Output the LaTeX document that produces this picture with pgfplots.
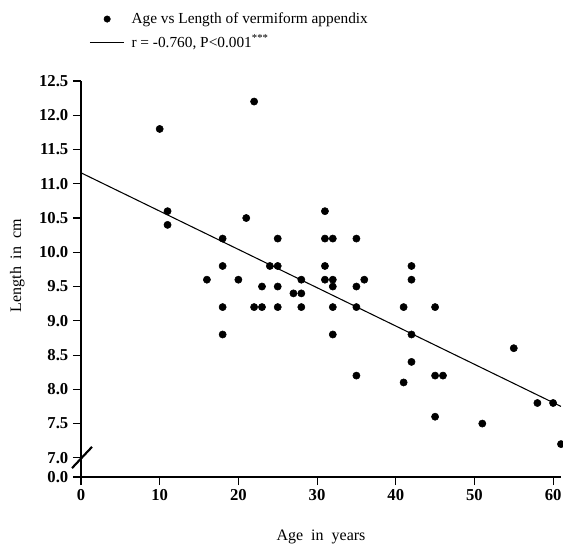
\documentclass[border=0pt]{standalone}
\usepackage{fontspec}
\setmainfont{Liberation Serif}
\usepackage{pgfplots}
\pgfplotsset{compat=1.18}

\begin{document}
\begin{tikzpicture}
\begin{axis}[
    scale only axis,
    width=360pt, height=297pt,
    xmin=0, xmax=61, ymin=6.72, ymax=12.5,
    axis lines=left,
    axis line style={-, line width=0.9pt},
    clip=false,
    xtick={0,10,20,30,40,50,60},
    xticklabels={0,10,20,30,40,50,60},
    ytick={6.72,7,7.5,8,8.5,9,9.5,10,10.5,11,11.5,12,12.5},
    yticklabels={0.0,7.0,7.5,8.0,8.5,9.0,9.5,10.0,10.5,11.0,11.5,12.0,12.5},
    tick align=outside,
    major tick length=6pt,
    tick style={black, line width=0.8pt},
    tick label style={font=\fontsize{12.5}{14}\selectfont\bfseries},
    xlabel={Age\ \ in\ \ years},
    ylabel={Length\ \ in\ \ cm},
    label style={font=\fontsize{12}{14}\selectfont},
    xlabel style={yshift=-15pt},
    ylabel style={yshift=4pt, xshift=10pt},
    legend style={draw=none, fill=none, inner sep=0pt,
        at={(axis description cs:0.017,1.18)}, anchor=north west,
        font=\fontsize{11.5}{13}\selectfont, row sep=3pt, column sep=3pt,
        nodes={inner sep=2pt}},
    legend cell align=left,
]
\addplot[only marks, mark=*, mark size=2.7pt, black,
    legend image code/.code={\fill[black] (13pt,0pt) circle (2.4pt);}]
coordinates {
    (10,11.8)(22,12.2)(11,10.6)(11,10.4)(21,10.5)(18,10.2)(25,10.2)
    (31,10.6)(31,10.2)(32,10.2)(35,10.2)(18,9.8)(24,9.8)(25,9.8)(31,9.8)
    (16,9.6)(20,9.6)(28,9.6)(31,9.6)(32,9.6)(36,9.6)(23,9.5)(25,9.5)
    (32,9.5)(35,9.5)(27,9.4)(28,9.4)(18,9.2)(22,9.2)(23,9.2)(25,9.2)
    (28,9.2)(32,9.2)(35,9.2)(18,8.8)(32,8.8)(35,8.2)(42,9.8)(42,9.6)
    (41,9.2)(45,9.2)(42,8.8)(42,8.4)(55,8.6)(41,8.1)(45,8.2)(46,8.2)
    (58,7.8)(60,7.8)(45,7.6)(51,7.5)(61,7.2)
};
\addlegendentry{Age vs Length of vermiform appendix}
\addplot[black, line width=0.8pt,
    legend image code/.code={\draw[black, line width=0.6pt] (0pt,0pt) -- (26pt,0pt);}]
coordinates {(0,11.16)(61,7.75)};
\addlegendentry{r = -0.760, P<0.001\textsuperscript{***}}
\draw[black, line width=1.6pt] (axis cs:-1.14,6.85) -- (axis cs:1.4,7.16);
\end{axis}
\pgfresetboundingbox
\path (-60.75pt,-51.75pt) rectangle (361.5pt,357.75pt);
\end{tikzpicture}
\end{document}
